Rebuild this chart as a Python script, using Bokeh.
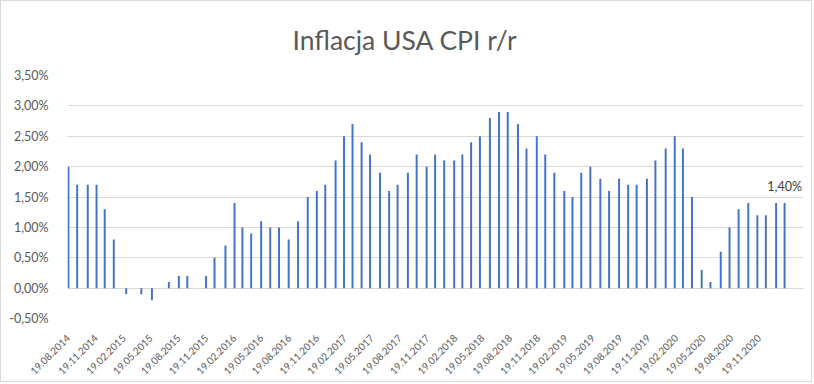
import math
import pandas as pd
from bokeh.plotting import figure
from bokeh.models import (ColumnDataSource, FixedTicker, Range1d, Title, Label,
                          CustomJSTickFormatter, DatetimeTickFormatter)
from bokeh.embed import file_html
from bokeh.resources import INLINE

# Release dates of CPI data and y/y CPI values (%)
release_dates = [
    "2014-08-19", "2014-09-17", "2014-10-22", "2014-11-20", "2014-12-17",
    "2015-01-16", "2015-02-26", "2015-03-24", "2015-04-17", "2015-05-22", "2015-06-18",
    "2015-07-17", "2015-08-19", "2015-09-16", "2015-10-15", "2015-11-17", "2015-12-15",
    "2016-01-20", "2016-02-19", "2016-03-16", "2016-04-14", "2016-05-17", "2016-06-16",
    "2016-07-15", "2016-08-16", "2016-09-16", "2016-10-18", "2016-11-17", "2016-12-15",
    "2017-01-18", "2017-02-15", "2017-03-15", "2017-04-14", "2017-05-12", "2017-06-14",
    "2017-07-14", "2017-08-11", "2017-09-14", "2017-10-13", "2017-11-15", "2017-12-13",
    "2018-01-12", "2018-02-14", "2018-03-13", "2018-04-11", "2018-05-10", "2018-06-12",
    "2018-07-12", "2018-08-10", "2018-09-13", "2018-10-11", "2018-11-14", "2018-12-12",
    "2019-01-11", "2019-02-13", "2019-03-12", "2019-04-10", "2019-05-10", "2019-06-12",
    "2019-07-11", "2019-08-13", "2019-09-12", "2019-10-10", "2019-11-13", "2019-12-11",
    "2020-01-14", "2020-02-13", "2020-03-11", "2020-04-10", "2020-05-12", "2020-06-10",
    "2020-07-14", "2020-08-12", "2020-09-11", "2020-10-13", "2020-11-12", "2020-12-10",
    "2021-01-13", "2021-02-10",
]
cpi_yoy = [
    2.0, 1.7, 1.7, 1.7, 1.3,
    0.8, -0.1, 0.0, -0.1, -0.2, 0.0,
    0.1, 0.2, 0.2, 0.0, 0.2, 0.5,
    0.7, 1.4, 1.0, 0.9, 1.1, 1.0,
    1.0, 0.8, 1.1, 1.5, 1.6, 1.7,
    2.1, 2.5, 2.7, 2.4, 2.2, 1.9,
    1.6, 1.7, 1.9, 2.2, 2.0, 2.2,
    2.1, 2.1, 2.2, 2.4, 2.5, 2.8,
    2.9, 2.9, 2.7, 2.3, 2.5, 2.2,
    1.9, 1.6, 1.5, 1.9, 2.0, 1.8,
    1.6, 1.8, 1.7, 1.7, 1.8, 2.1,
    2.3, 2.5, 2.3, 1.5, 0.3, 0.1,
    0.6, 1.0, 1.3, 1.4, 1.2, 1.2,
    1.4, 1.4,
]
x_tick_labels = [
    "19.08.2014", "19.11.2014", "19.02.2015", "19.05.2015", "19.08.2015", "19.11.2015",
    "19.02.2016", "19.05.2016", "19.08.2016", "19.11.2016", "19.02.2017", "19.05.2017",
    "19.08.2017", "19.11.2017", "19.02.2018", "19.05.2018", "19.08.2018", "19.11.2018",
    "19.02.2019", "19.05.2019", "19.08.2019", "19.11.2019", "19.02.2020", "19.05.2020",
    "19.08.2020", "19.11.2020",
]
y_ticks = [-0.5, 0.0, 0.5, 1.0, 1.5, 2.0, 2.5, 3.0, 3.5]
title_text = "Inflacja USA CPI r/r"
last_label = "1,40%"

dates = pd.to_datetime(release_dates)
src = ColumnDataSource(dict(x=dates, top=cpi_yoy))

DAY = 86400000.0
tick_ms = [pd.Timestamp(pd.to_datetime(s, format="%d.%m.%Y")).value / 1e6 for s in x_tick_labels]

# layout (page pixels): frame left 67, gridlines end 785, frame right 803
x0 = dates[0].value / 1e6 - 3 * DAY
g1 = dates[-1].value / 1e6 + 3 * DAY
scale = (785 - 67) / (g1 - x0)
x1 = x0 + (803 - 67) / scale

FONT = "Lato"
GREY = "#595959"

p = figure(width=812, height=382, output_backend="svg", toolbar_location=None,
           x_axis_type="datetime",
           x_range=Range1d(x0, x1), y_range=Range1d(-0.5, 3.5),
           min_border_left=66, min_border_right=10, min_border_top=73,
           min_border_bottom=65)
p.outline_line_color = None
p.background_fill_color = "white"
p.border_fill_color = "white"
p.styles = {"border": "1px solid #D9D9D9"}

p.vbar(x="x", top="top", bottom=0, width=6.5 * DAY, source=src,
       fill_color="#4472C4", line_color=None)

# axes
p.yaxis.ticker = FixedTicker(ticks=y_ticks)
p.yaxis.formatter = CustomJSTickFormatter(code="return tick.toFixed(2).replace('.', ',') + '%';")
p.yaxis.axis_line_color = None
p.yaxis.major_tick_line_color = None
p.yaxis.minor_tick_line_color = None
p.yaxis.major_label_standoff = 13
p.yaxis.major_label_text_font = FONT
p.yaxis.major_label_text_font_size = "12.5px"
p.yaxis.major_label_text_color = GREY

p.xaxis.ticker = FixedTicker(ticks=tick_ms)
fmt = "%d.%m.%Y"
p.xaxis.formatter = DatetimeTickFormatter(
    microseconds=fmt, milliseconds=fmt, seconds=fmt, minsec=fmt, minutes=fmt,
    hourmin=fmt, hours=fmt, days=fmt, months=fmt, years=fmt)
p.xaxis.major_label_orientation = math.pi / 4
p.xaxis.axis_line_color = None
p.xaxis.major_tick_line_color = None
p.xaxis.minor_tick_line_color = None
p.xaxis.major_label_standoff = 12
p.xaxis.major_label_text_font = FONT
p.xaxis.major_label_text_font_size = "10px"
p.xaxis.major_label_text_color = GREY

p.xgrid.grid_line_color = None
p.ygrid.ticker = FixedTicker(ticks=y_ticks)
p.ygrid.grid_line_color = "#D9D9D9"
p.ygrid.grid_line_width = 1
p.ygrid.bounds = (x0, g1)

p.title = Title(text=title_text, align="left", offset=225, standoff=40,
                text_font=FONT, text_font_size="26.5px", text_font_style="normal",
                text_color=GREY)

p.add_layout(Label(x=dates[-1], y=cpi_yoy[-1], text=last_label, y_offset=9,
                   text_align="center", text_baseline="bottom",
                   text_font=FONT, text_font_size="12.5px", text_color="#404040"))

open("out.html", "w").write(file_html(p, INLINE))
